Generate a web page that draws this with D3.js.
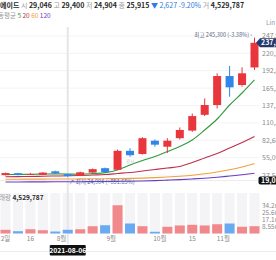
<!DOCTYPE html>
<html>
<head>
<meta charset="utf-8">
<script src="https://cdn.jsdelivr.net/npm/d3@7"></script>
<style>
  html, body { margin: 0; padding: 0; background: #fff; overflow: hidden; }
  svg { display: block; }
</style>
</head>
<body>
<svg id="chart" width="276" height="260" viewBox="0 0 276 260"></svg>
<script>
// weekly candles (won)
const opens  = [27500, 30500, 28500, 28000, 33500, 29046, 26500, 31500, 38500, 36000, 66000, 61000, 82000, 72500, 86000, 98000, 123000, 138500, 184400, 170200, 198000];
const highs  = [31500, 31200, 31000, 32300, 34500, 29400, 33000, 38000, 39500, 68000, 70000, 87500, 84000, 86000, 103000, 125000, 149000, 188700, 200300, 198300, 245300];
const lows   = [27000, 27300, 28000, 27600, 30000, 24904, 26000, 31000, 32000, 35500, 56500, 60000, 72500, 62500, 84000, 96000, 121000, 133000, 151700, 167500, 194000];
const closes = [30800, 27800, 29300, 31500, 30500, 25915, 32000, 37000, 32500, 66000, 59000, 86000, 75700, 82000, 99000, 121000, 138500, 184400, 166500, 188700, 237000];
const volumes = [4500000, 2800000, 5200000, 4000000, 2400000, 4529787, 5200000, 8900000, 10100000, 34500000, 12200000, 8900000, 2100000, 8200000, 9800000, 10600000, 9800000, 11300000, 12200000, 8200000, 8900000];

// moving averages
const ma5   = [28500, 28660, 28820, 29130, 29450, 29290, 28970, 29920, 31510, 35620, 43540, 50660, 57000, 64910, 72830, 83120, 98950, 116370, 138540, 157540, 178120];
const ma20  = [24900, 25200, 25300, 25800, 26100, 26400, 26900, 27700, 28500, 30100, 31700, 34000, 36400, 38800, 41200, 47500, 54600, 61700, 70500, 79200, 88700];
const ma60  = [21060, 21060, 21220, 21220, 21370, 21370, 21530, 21690, 21850, 22010, 22320, 22800, 23590, 24540, 25810, 27390, 29610, 32460, 35940, 40370, 45910];
const ma120 = [16620, 16700, 16780, 16860, 16940, 17020, 17100, 17260, 17420, 17650, 17890, 18300, 18840, 19600, 20420, 21450, 22640, 24200, 26120, 28100, 30400];

const priceTicks = [27548, 55096, 82645, 110193, 137741, 165290, 192838, 220387, 247935];
const volumeTicks = [8550000, 17100000, 25650000, 34200000];
const volumeTickLabels = ["8.55m", "17.1m", "25.6m", "34.2m"];
const dateTickPos = [0, 2, 4.5, 8.5, 12.4, 15, 17.5];
const dateTickLabels = ["2일", "16", "8월", "9월", "10월", "15", "11월"];

const stockName = "에이드";
const hoverIndex = 5;
const hoverDate = "2021-08-06";
const crossPrice = 19050;

function renderCandleChart(selector) {
    const svg = d3.select(selector);
    svg.selectAll("*").remove();

    const font = "'Noto Sans CJK KR', 'Noto Sans', sans-serif";
    const upColor = "#e8363c", downColor = "#2f86e8";
    const upVol = "#f0888c", downVol = "#6aaaf0";
    const maStyles = [
        { data: ma5, color: "#2f9a3c" },
        { data: ma20, color: "#bd2f4e" },
        { data: ma60, color: "#eda23c" },
        { data: ma120, color: "#6a3dc4" }
    ];
    const fmt = d3.format(",");

    const plotRight = 259;
    const x = d3.scaleLinear().domain([0, opens.length - 1]).range([5.5, 254.5]);
    const y = d3.scaleLinear().domain([0, 247935]).range([192.5, 35.9]);
    const yv = d3.scaleLinear().domain([0, 34200000]).range([233.5, 205.5]);

    svg.append("defs").append("clipPath").attr("id", "plot-clip")
        .append("rect").attr("x", 0).attr("y", 27).attr("width", plotRight).attr("height", 163);

    // grid
    svg.append("g").selectAll("line").data(priceTicks).join("line")
        .attr("x1", 0).attr("x2", plotRight)
        .attr("y1", d => y(d)).attr("y2", d => y(d))
        .style("stroke", "#f3f3f3").style("stroke-width", 1);

    // volume slot backgrounds
    svg.append("g").selectAll("rect").data(volumes).join("rect")
        .attr("x", (d, i) => x(i) - 5).attr("y", 193)
        .attr("width", 10).attr("height", yv(0) - 193)
        .style("fill", "#f4f4f6");

    // crosshair
    svg.append("line")
        .attr("x1", x(hoverIndex)).attr("x2", x(hoverIndex)).attr("y1", 27).attr("y2", 244)
        .style("stroke", "#e6e6e8").style("stroke-width", 2);
    svg.append("line")
        .attr("x1", 0).attr("x2", plotRight).attr("y1", y(crossPrice)).attr("y2", y(crossPrice))
        .style("stroke", "#ececec").style("stroke-width", 1);

    // volume bars
    svg.append("g").selectAll("rect").data(volumes).join("rect")
        .attr("x", (d, i) => x(i) - 5).attr("y", d => yv(d))
        .attr("width", 10).attr("height", d => yv(0) - yv(d))
        .style("fill", (d, i) => closes[i] >= opens[i] ? upVol : downVol);

    const plot = svg.append("g").attr("clip-path", "url(#plot-clip)");

    // moving averages
    maStyles.slice().reverse().forEach(ma => {
        plot.append("path")
            .attr("d", d3.line().x((d, i) => x(i)).y(d => y(d)).curve(d3.curveMonotoneX)(ma.data))
            .style("fill", "none").style("stroke", ma.color).style("stroke-width", 1.1);
    });

    // candles
    const candles = plot.append("g").selectAll("g").data(opens).join("g")
        .style("fill", (d, i) => closes[i] >= opens[i] ? upColor : downColor)
        .style("stroke", (d, i) => closes[i] >= opens[i] ? upColor : downColor);
    candles.append("line")
        .attr("x1", (d, i) => x(i)).attr("x2", (d, i) => x(i))
        .attr("y1", (d, i) => y(highs[i])).attr("y2", (d, i) => y(lows[i]))
        .style("stroke-width", 1);
    candles.append("rect")
        .attr("x", (d, i) => x(i) - 4).attr("width", 8)
        .attr("y", (d, i) => y(Math.max(opens[i], closes[i])))
        .attr("height", (d, i) => Math.max(1, Math.abs(y(opens[i]) - y(closes[i]))))
        .style("stroke", "none");

    // event marker under the big week
    plot.append("text").attr("x", x(10)).attr("y", 163)
        .attr("text-anchor", "middle")
        .style("font-family", font).style("font-size", "5px").style("fill", "#c4b8bc")
        .text("공시");

    // high / low notes
    const last = closes.length - 1;
    const hi = d3.max(highs), lo = d3.min(lows);
    svg.append("text").attr("x", 252).attr("y", 37)
        .attr("text-anchor", "end")
        .style("font-family", font).style("font-size", "5.6px").style("fill", "#5d6a86")
        .text(`최고 ${fmt(hi)} (${((closes[last] - hi) / hi * 100).toFixed(2)}%) ›`);
    svg.append("text").attr("x", x(hoverIndex) + 1).attr("y", 183.5)
        .style("font-family", font).style("font-size", "5.6px").style("fill", "#5a62b8")
        .text(`↗ 최저 ${fmt(lo)} (+${((closes[last] - lo) / lo * 100).toFixed(2)}%)`);

    // right price axis
    svg.append("g").selectAll("text").data(priceTicks).join("text")
        .attr("x", 262).attr("y", d => y(d) + 2.4)
        .style("font-family", font).style("font-size", "7px").style("fill", "#8a8a8a")
        .text(d => fmt(d));

    // current price tag
    const cy = y(closes[last]);
    svg.append("path")
        .attr("d", `M256,${cy} L260,${cy - 4.5} L280,${cy - 4.5} L280,${cy + 4.5} L260,${cy + 4.5} Z`)
        .style("fill", "#26396a");
    svg.append("text").attr("x", 261).attr("y", cy + 2.5)
        .style("font-family", font).style("font-size", "7px").style("font-weight", "bold").style("fill", "#fff")
        .text(fmt(closes[last]));

    // crosshair price tag
    const hy = y(crossPrice);
    svg.append("rect").attr("x", 258.5).attr("y", hy - 4).attr("width", 24).attr("height", 8).attr("rx", 2)
        .style("fill", "#111");
    svg.append("text").attr("x", 261).attr("y", hy + 2.4)
        .style("font-family", font).style("font-size", "7px").style("font-weight", "bold").style("fill", "#fff")
        .text(fmt(crossPrice));

    svg.append("text").attr("x", 266).attr("y", 24.5)
        .style("font-family", font).style("font-size", "6.5px").style("fill", "#9a9a9a")
        .text("Lin");

    // volume axis
    svg.append("g").selectAll("text").data(volumeTicks).join("text")
        .attr("x", 262).attr("y", d => yv(d) + 2.2)
        .style("font-family", font).style("font-size", "6.5px").style("fill", "#8a8a8a")
        .text((d, i) => volumeTickLabels[i]);

    // date axis
    svg.append("g").selectAll("text").data(dateTickPos).join("text")
        .attr("x", d => x(d)).attr("y", 240.5)
        .attr("text-anchor", "middle")
        .style("font-family", font).style("font-size", "6.5px").style("fill", "#8a8a8a")
        .text((d, i) => dateTickLabels[i]);

    svg.append("line").attr("x1", 0).attr("x2", 276).attr("y1", 251.5).attr("y2", 251.5)
        .style("stroke", "#ececec").style("stroke-width", 1);

    // date tag
    const hx = x(hoverIndex);
    svg.append("rect").attr("x", hx - 18).attr("y", 245).attr("width", 36).attr("height", 10.5).attr("rx", 1)
        .style("fill", "#111");
    svg.append("text").attr("x", hx).attr("y", 252.6).attr("text-anchor", "middle")
        .style("font-family", font).style("font-size", "6.8px").style("font-weight", "bold").style("fill", "#fff")
        .text(hoverDate);

    // header line
    const head = svg.append("text").attr("x", 0).attr("y", 7.5)
        .style("font-family", font).style("font-size", "7px");
    const grey = "#9a9a9a", dark = "#2a2a2a", blue = "#2f7be0";
    const diff = closes[hoverIndex] - closes[hoverIndex - 1];
    const parts = [
        [stockName, dark, "bold"],
        [" 시 ", grey, "normal"], [fmt(opens[hoverIndex]), dark, "bold"],
        [" 고 ", grey, "normal"], [fmt(highs[hoverIndex]), dark, "bold"],
        [" 저 ", grey, "normal"], [fmt(lows[hoverIndex]), dark, "bold"],
        [" 종 ", grey, "normal"], [fmt(closes[hoverIndex]), dark, "bold"],
        [" ▼ " + fmt(2627), blue, "normal"],
        [" -9.20%", blue, "normal"],
        [" 거 ", grey, "normal"], [fmt(volumes[hoverIndex]), dark, "bold"]
    ];
    parts.forEach(p => head.append("tspan").style("fill", p[1]).style("font-weight", p[2]).text(p[0]));
    head.attr("xml:space", "preserve");

    const maLine = svg.append("text").attr("x", -8).attr("y", 17.5)
        .attr("xml:space", "preserve")
        .style("font-family", font).style("font-size", "6.5px");
    maLine.append("tspan").style("fill", grey).text("이동평균");
    [["5", 0], ["20", 1], ["60", 2], ["120", 3]].forEach(m => {
        maLine.append("tspan").style("fill", maStyles[m[1]].color).text(" " + m[0]);
    });

    // volume caption
    const vcap = svg.append("text").attr("x", -7).attr("y", 200)
        .attr("xml:space", "preserve")
        .style("font-family", font).style("font-size", "6.5px");
    vcap.append("tspan").style("fill", grey).text("거래량 ");
    vcap.append("tspan").style("fill", dark).style("font-weight", "bold").text(fmt(volumes[hoverIndex]));
}

renderCandleChart("#chart");
</script>
</body>
</html>
